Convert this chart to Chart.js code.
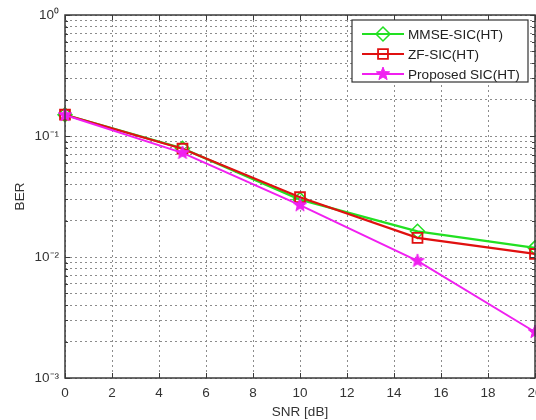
<!DOCTYPE html>
<html>
<head>
<meta charset="utf-8">
<script src="https://cdn.jsdelivr.net/npm/chart.js@4/dist/chart.umd.min.js"></script>
<style>
  html, body { margin: 0; padding: 0; background: #fff; overflow: hidden; }
  #wrap { width: 550px; height: 420px; }
</style>
</head>
<body>
<div id="wrap"><canvas id="myChart"></canvas></div>
<script>
// values
var snr = [0, 5, 10, 15, 20];
var mmseSic = [0.150, 0.079, 0.0298, 0.0163, 0.0119];
var zfSic = [0.150, 0.0785, 0.0312, 0.0144, 0.0106];
var proposedSic = [0.149, 0.0725, 0.0268, 0.0093, 0.0024];
var xTicks = [0, 2, 4, 6, 8, 10, 12, 14, 16, 18, 20];
var yTicks = [0.001, 0.002, 0.003, 0.004, 0.005, 0.006, 0.007, 0.008, 0.009,
  0.01, 0.02, 0.03, 0.04, 0.05, 0.06, 0.07, 0.08, 0.09,
  0.1, 0.2, 0.3, 0.4, 0.5, 0.6, 0.7, 0.8, 0.9, 1];
var yLabels = { "0.001": "10\u207B\u00B3", "0.01": "10\u207B\u00B2", "0.1": "10\u207B\u00B9", "1": "10\u2070" };

var FONT = "'Liberation Sans', Arial, sans-serif";

function toPoints(ys) {
  return snr.map(function (x, i) { return { x: x, y: ys[i] }; });
}

// filled pentagram like matlab's 'p' marker
function makeStar(color, r) {
  var c = document.createElement("canvas");
  c.width = r * 2 + 4;
  c.height = r * 2 + 4;
  var g = c.getContext("2d");
  g.beginPath();
  for (var i = 0; i < 10; i++) {
    var rad = i % 2 === 0 ? r : r * 0.42;
    var a = -Math.PI / 2 + i * Math.PI / 5;
    var px = c.width / 2 + rad * Math.cos(a);
    var py = c.height / 2 + rad * Math.sin(a);
    if (i === 0) g.moveTo(px, py); else g.lineTo(px, py);
  }
  g.closePath();
  g.fillStyle = color;
  g.fill();
  g.strokeStyle = color;
  g.lineWidth = 1;
  g.stroke();
  return c;
}
var starImg = makeStar("#f020f0", 7);

function isDecade(v) {
  var l = Math.log10(v);
  return Math.abs(l - Math.round(l)) < 1e-9;
}

var frameAndTicks = {
  id: "frameAndTicks",
  afterDatasetsDraw: function (chart) {
    var ctx = chart.ctx, a = chart.chartArea;
    var xs = chart.scales.x, ys = chart.scales.y;
    ctx.save();
    ctx.strokeStyle = "#3a3a3a";
    ctx.lineWidth = 1;
    ctx.beginPath();
    xTicks.forEach(function (t) {
      var px = Math.round(xs.getPixelForValue(t)) + 0.5;
      ctx.moveTo(px, a.bottom); ctx.lineTo(px, a.bottom - 5);
      ctx.moveTo(px, a.top); ctx.lineTo(px, a.top + 5);
    });
    yTicks.forEach(function (t) {
      var py = Math.round(ys.getPixelForValue(t)) + 0.5;
      var len = isDecade(t) ? 5 : 3;
      ctx.moveTo(a.left, py); ctx.lineTo(a.left + len, py);
      ctx.moveTo(a.right, py); ctx.lineTo(a.right - len, py);
    });
    ctx.stroke();
    ctx.lineWidth = 1.5;
    ctx.strokeRect(a.left, a.top, a.right - a.left, a.bottom - a.top);
    ctx.restore();
  }
};

var matlabLegend = {
  id: "matlabLegend",
  afterDraw: function (chart) {
    var ctx = chart.ctx;
    var x0 = 352, y0 = 20, w = 176, h = 62;
    ctx.save();
    ctx.fillStyle = "#fff";
    ctx.fillRect(x0, y0, w, h);
    ctx.strokeStyle = "#333";
    ctx.lineWidth = 1.2;
    ctx.strokeRect(x0, y0, w, h);
    ctx.font = "13.6px " + FONT;
    ctx.textBaseline = "middle";
    chart.data.datasets.forEach(function (ds, i) {
      var yy = y0 + 14 + i * 20;
      ctx.strokeStyle = ds.borderColor;
      ctx.lineWidth = 2;
      ctx.beginPath();
      ctx.moveTo(x0 + 10, yy); ctx.lineTo(x0 + 52, yy);
      ctx.stroke();
      ctx.fillStyle = "rgba(0,0,0,0)";
      ctx.lineWidth = ds.pointBorderWidth;
      Chart.helpers.drawPoint(ctx, {
        pointStyle: ds.pointStyle, rotation: 0,
        radius: ds.pointRadius, borderWidth: ds.pointBorderWidth
      }, x0 + 31, yy);
      ctx.fillStyle = "#222";
      ctx.fillText(ds.label, x0 + 56, yy + 1);
    });
    ctx.restore();
  }
};

var ctx2 = document.getElementById("myChart").getContext("2d");
var myChart1 = new Chart(ctx2, {
  type: "line",
  data: {
    datasets: [
      {
        label: "MMSE-SIC(HT)",
        data: toPoints(mmseSic),
        borderColor: "#22e022",
        backgroundColor: "rgba(0,0,0,0)",
        borderWidth: 2.2,
        pointStyle: "rectRot",
        pointRadius: 7,
        pointBorderWidth: 1.5,
        pointBorderColor: "#22e022",
        pointBackgroundColor: "rgba(0,0,0,0)",
        order: 3
      },
      {
        label: "ZF-SIC(HT)",
        data: toPoints(zfSic),
        borderColor: "#e01010",
        backgroundColor: "rgba(0,0,0,0)",
        borderWidth: 2.2,
        pointStyle: "rect",
        pointRadius: 7,
        pointBorderWidth: 1.8,
        pointBorderColor: "#e01010",
        pointBackgroundColor: "rgba(0,0,0,0)",
        order: 2
      },
      {
        label: "Proposed SIC(HT)",
        data: toPoints(proposedSic),
        borderColor: "#f020f0",
        backgroundColor: "rgba(0,0,0,0)",
        borderWidth: 2,
        pointStyle: starImg,
        pointRadius: 7,
        pointBorderWidth: 1,
        order: 1
      }
    ]
  },
  options: {
    responsive: true,
    maintainAspectRatio: false,
    animation: false,
    clip: false,
    layout: { padding: { top: 15, right: 15, left: 0, bottom: 0 } },
    plugins: {
      legend: { display: false },
      tooltip: { enabled: false }
    },
    scales: {
      x: {
        type: "linear",
        min: 0,
        max: 20,
        afterBuildTicks: function (scale) {
          scale.ticks = xTicks.map(function (v) { return { value: v }; });
        },
        afterFit: function (scale) { scale.height = 42; },
        grid: {
          color: "#8c8c8c",
          lineWidth: 1,
          drawTicks: false
        },
        border: { display: false, dash: [2, 3] },
        ticks: {
          color: "#333",
          font: { family: FONT, size: 13.5 },
          padding: 7,
          maxRotation: 0,
          autoSkip: false
        },
        title: {
          display: true,
          text: "SNR [dB]",
          color: "#333",
          font: { family: FONT, size: 13.5 },
          padding: { top: 0, bottom: 0 }
        }
      },
      y: {
        type: "logarithmic",
        min: 0.001,
        max: 1,
        afterBuildTicks: function (scale) {
          scale.ticks = yTicks.map(function (v) { return { value: v }; });
        },
        afterFit: function (scale) { scale.width = 65; },
        grid: {
          color: "#8c8c8c",
          lineWidth: 1,
          drawTicks: false
        },
        border: { display: false, dash: [2, 3] },
        ticks: {
          color: "#333",
          font: { family: FONT, size: 13.5 },
          padding: 6,
          autoSkip: false,
          callback: function (v) { return yLabels[String(v)] || ""; }
        },
        title: {
          display: true,
          text: "BER",
          color: "#333",
          font: { family: FONT, size: 13.5 },
          padding: { top: 12, bottom: 8 }
        }
      }
    }
  },
  plugins: [frameAndTicks, matlabLegend]
});
</script>
</body>
</html>
